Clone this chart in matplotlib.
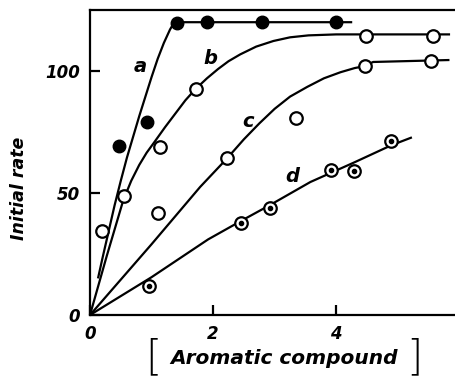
import matplotlib
matplotlib.use("Agg")
import matplotlib.pyplot as plt

# Data points
a_x = [0.47, 0.93, 1.41, 1.90, 2.80, 4.00]
a_y = [69.3, 79.0, 119.6, 120.0, 120.0, 120.0]
b_x = [0.20, 0.55, 1.13, 1.72, 4.48, 5.58]
b_y = [34.4, 48.8, 69.0, 92.6, 114.3, 114.3]
c_x = [1.10, 2.22, 3.35, 4.46, 5.54]
c_y = [41.8, 64.3, 80.7, 102.0, 104.0]
d_x = [0.96, 2.45, 2.92, 3.92, 4.29, 4.89]
d_y = [11.9, 37.8, 43.7, 59.4, 59.0, 71.4]

# Fitted curves
ca_x = [0.13, 0.20, 0.30, 0.40, 0.50, 0.60, 0.70, 0.80, 0.90, 1.00, 1.10, 1.20, 1.30, 1.37, 4.26]
ca_y = [15.0, 23.0, 34.0, 45.0, 55.0, 64.5, 73.0, 81.5, 89.5, 97.5, 105.0, 111.5, 117.0, 120.0, 120.0]
cb_x = [0.0, 0.27, 0.54, 0.67, 0.80, 0.92, 1.05, 1.22, 1.40, 1.55, 1.71, 1.90, 2.08, 2.25,
        2.44, 2.70, 2.98, 3.25, 3.55, 4.00, 5.85]
cb_y = [0.0, 24.0, 47.0, 55.0, 61.5, 66.5, 71.0, 77.0, 83.0, 88.0, 92.5, 97.0, 100.8, 104.0,
        106.8, 110.0, 112.3, 113.8, 114.6, 115.0, 115.0]
cc_x = [0.0, 1.0, 1.79, 2.22, 2.50, 2.75, 3.00, 3.25, 3.53, 3.80, 4.07, 4.30, 4.46, 4.60, 5.84]
cc_y = [0.0, 29.0, 52.5, 64.0, 72.0, 78.5, 84.5, 89.5, 93.5, 97.0, 99.5, 101.2, 102.0, 103.7, 104.5]
cd_x = [0.0, 1.0, 1.92, 2.45, 2.92, 3.58, 4.29, 4.89, 5.23]
cd_y = [0.0, 15.5, 31.0, 38.5, 45.0, 54.5, 62.5, 69.5, 72.8]

curve_labels = ["a", "b", "c", "d"]
label_x = [0.81, 1.95, 2.57, 3.28]
label_y = [101.8, 105.2, 79.2, 56.7]

x_ticks = [0, 2, 4]
y_ticks = [0, 50, 100]

fnt = dict(family="DejaVu Sans", style="italic", weight="bold")

fig = plt.figure(figsize=(4.55, 3.81), dpi=100)
ax = fig.add_axes([90/455, 66/381, 365/455, 305/381])
lw = 1.6
for cx, cy in [(ca_x, ca_y), (cb_x, cb_y), (cc_x, cc_y), (cd_x, cd_y)]:
    ax.plot(cx, cy, color="black", lw=lw, solid_capstyle="butt",
            solid_joinstyle="round", zorder=2)

ax.plot(a_x, a_y, "o", ms=9, mfc="black", mec="black", zorder=3)
for px, py in [(b_x, b_y), (c_x, c_y), (d_x, d_y)]:
    ax.plot(px, py, "o", ms=9, mfc="white", mec="black", mew=1.6, zorder=3)
ax.plot(d_x, d_y, "o", ms=3, mfc="black", mec="black", zorder=4)

for t, lx, ly in zip(curve_labels, label_x, label_y):
    ax.text(lx, ly, t, fontsize=14, ha="center", va="center", **fnt)

ax.set_xlim(0, 5.93)
ax.set_ylim(0, 125)
ax.set_xticks(x_ticks)
ax.set_yticks(y_ticks)
ax.set_xticklabels([str(v) for v in x_ticks], fontsize=12, **fnt)
ax.set_yticklabels([str(v) for v in y_ticks], fontsize=12, **fnt)
ax.tick_params(direction="in", length=7, width=1.6, pad=7)
ax.spines["right"].set_visible(False)
for s in ["left", "bottom", "top"]:
    ax.spines[s].set_linewidth(1.6)

fig.text(19/455, 1 - 188/381, "Initial rate", rotation=90, fontsize=12.5,
         ha="center", va="center", **fnt)
fig.text(284/455, 1 - 359/381, "Aromatic compound", fontsize=14.5,
         ha="center", va="center", **fnt)
fig.text(153/455, 1 - 358/381, "[", fontsize=30, ha="center", va="center",
         family="DejaVu Sans", weight="light")
fig.text(414/455, 1 - 358/381, "]", fontsize=30, ha="center", va="center",
         family="DejaVu Sans", weight="light")

fig.savefig("out.png", dpi=100)
